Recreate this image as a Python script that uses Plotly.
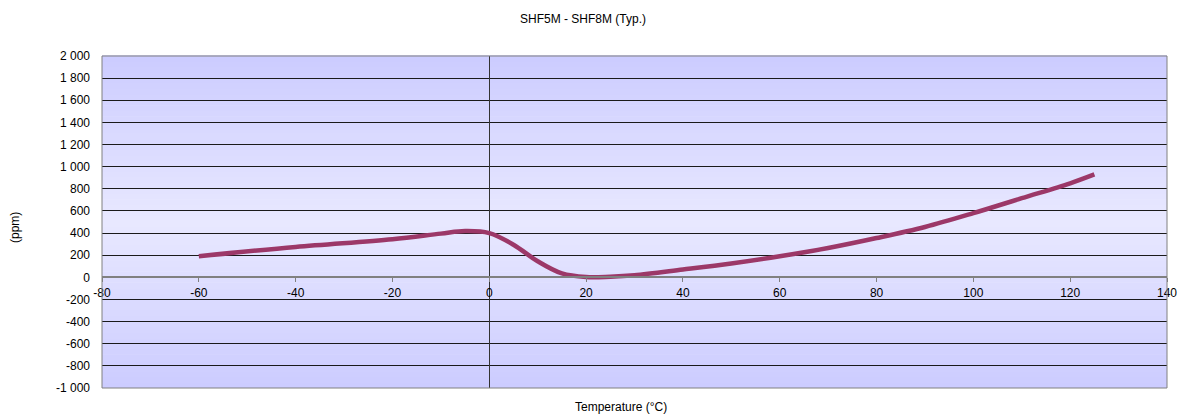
import plotly.graph_objects as go

# Data
temperature = [-60, -40, -20, -10, -5, 0, 5, 10, 15, 20, 25, 30, 40, 50, 60, 70, 80, 90, 100, 110, 120, 125]
ppm = [190, 275, 345, 395, 418, 400, 295, 145, 35, 2, 5, 18, 70, 125, 190, 265, 355, 455, 580, 715, 850, 930]

y_tickvals = [2000, 1800, 1600, 1400, 1200, 1000, 800, 600, 400, 200, 0, -200, -400, -600, -800, -1000]
y_ticktext = ["2 000", "1 800", "1 600", "1 400", "1 200", "1 000", "800", "600", "400", "200", "0",
              "-200", "-400", "-600", "-800", "-1 000"]
x_tickvals = [-80, -60, -40, -20, 0, 20, 40, 60, 80, 100, 120, 140]
x_ticktext = ["-80", "-60", "-40", "-20", "0", "20", "40", "60", "80", "100", "120", "140"]

title_text = "SHF5M - SHF8M (Typ.)"
x_title = "Temperature (°C)"
y_title = "(ppm)"

FONT = "Liberation Sans, Arial, sans-serif"
FS = 12

fig = go.Figure()
fig.add_trace(go.Scatter(
    x=temperature, y=ppm, mode="lines",
    line=dict(color="#9C3868", width=4.5, shape="spline", smoothing=1.0),
    showlegend=False, hoverinfo="x+y",
))

# Vertical gradient background (edges darker, middle lighter)
shapes = []
n = 60
c_edge = (204, 204, 255)
c_mid = (232, 232, 255)
for i in range(n):
    t0 = i / n
    t1 = (i + 1) / n
    tm = (t0 + t1) / 2
    f = 1 - abs(tm - 0.5) * 2  # 0 at edges, 1 at middle
    col = tuple(round(c_edge[k] + (c_mid[k] - c_edge[k]) * f) for k in range(3))
    shapes.append(dict(type="rect", xref="paper", yref="paper", x0=0, x1=1, y0=t0, y1=t1 + 0.002,
                       fillcolor="rgb(%d,%d,%d)" % col, line=dict(width=0), layer="below"))
shapes.append(dict(type="rect", xref="paper", yref="paper", x0=0, x1=1, y0=0, y1=1,
                   fillcolor="rgba(0,0,0,0)", line=dict(color="#808080", width=1), layer="above"))

fig.update_layout(
    width=1179, height=415,
    margin=dict(l=102, r=12, t=56, b=27, autoexpand=False),
    paper_bgcolor="white",
    plot_bgcolor="rgba(0,0,0,0)",
    font=dict(family=FONT, size=FS, color="black"),
    shapes=shapes,
    xaxis=dict(
        range=[-80, 140], tickvals=x_tickvals, ticktext=x_ticktext,
        ticks="outside", ticklen=4, tickcolor="#808080",
        showgrid=False, zeroline=True, zerolinecolor="#333333", zerolinewidth=1,
        showline=True, linecolor="#808080", linewidth=2, automargin=False,
        ticklabeloverflow="allow",
        anchor="free", position=1/3, tickfont=dict(family=FONT, size=FS, color="black"),
    ),
    yaxis=dict(
        range=[-1000, 2000], tickvals=y_tickvals, ticktext=y_ticktext,
        showgrid=True, gridcolor="#1a1a1a", gridwidth=1, zeroline=False,
        showline=False, ticks="", domain=[0, 1], automargin=False, ticklabelstandoff=11,
        tickfont=dict(family=FONT, size=FS, color="black"),
    ),
    annotations=[
        dict(text=title_text, xref="paper", yref="paper", x=(583 - 102) / 1065, y=(388 - 19) / 332,
             xanchor="center", yanchor="middle", showarrow=False, font=dict(family=FONT, size=FS)),
        dict(text=x_title, xref="paper", yref="paper", x=(621 - 102) / 1065, y=(388 - 407) / 332,
             xanchor="center", yanchor="middle", showarrow=False, font=dict(family=FONT, size=FS)),
        dict(text=y_title, xref="paper", yref="paper", x=(15 - 102) / 1065, y=(388 - 228) / 332,
             xanchor="center", yanchor="middle", showarrow=False, textangle=-90,
             font=dict(family=FONT, size=FS)),
    ],
)

# Remove the default page margin so the figure sits at the window's top-left corner.
fig.write_html("out.html", config={"displayModeBar": False},
               post_script="document.body.style.margin='0';document.body.style.overflow='hidden';")
